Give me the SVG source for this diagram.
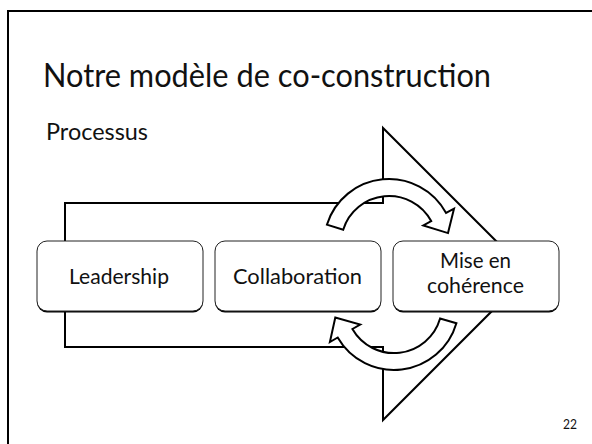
<svg xmlns="http://www.w3.org/2000/svg" width="592" height="444" viewBox="0 0 592 444">
<style>
.txt{font-family:"Lato","Liberation Sans",sans-serif;fill:#111}
.shape{fill:#fff;stroke:#000;stroke-width:2;stroke-linejoin:miter}
.box{fill:#fff;stroke:#222;stroke-width:1}
.shadow{fill:#000}
</style>
<rect x="0" y="0" width="592" height="444" fill="#fff"/>
<rect id="frame" x="8" y="11" width="600" height="460" fill="none" stroke="#000" stroke-width="2"/>
<text class="txt" x="43" y="87" font-size="32" textLength="448" lengthAdjust="spacingAndGlyphs">Notre modèle de co-construction</text>
<text class="txt" x="46" y="140" font-size="24" textLength="102" lengthAdjust="spacingAndGlyphs">Processus</text>
<g id="connectors">
<path id="big-arrow" class="shape" d="M65 203 L383 203 L383 128 L529 274 L383 420 L383 347 L65 347 Z"/>
<path id="arrow-top" class="shape" d="M326.9 224.7 A65 65 0 0 1 446.1 213 L454 208.7 L448 233.1 L423.3 225.4 L431.2 221.1 A48 48 0 0 0 343.2 229.7 Z"/>
<path id="arrow-bottom" class="shape" d="M456.4 323.2 A65 65 0 0 1 337.7 337.5 L329.9 342 L335.3 317.5 L360.2 324.5 L352.4 329 A48 48 0 0 0 440.1 318.5 Z"/>
</g>
<g id="node-leadership">
<rect class="shadow" x="37" y="242.5" width="166" height="70" rx="10"/>
<rect class="box" x="37" y="241" width="166" height="70" rx="10"/>
<text class="txt" x="69" y="284" font-size="22" textLength="100" lengthAdjust="spacingAndGlyphs">Leadership</text>
</g>
<g id="node-collaboration">
<rect class="shadow" x="215" y="242.5" width="166" height="70" rx="10"/>
<rect class="box" x="215" y="241" width="166" height="70" rx="10"/>
<text class="txt" x="233" y="284" font-size="22" textLength="129" lengthAdjust="spacingAndGlyphs">Collaboration</text>
</g>
<g id="node-coherence">
<rect class="shadow" x="393" y="242.5" width="166" height="70" rx="10"/>
<rect class="box" x="393" y="241" width="166" height="70" rx="10"/>
<text class="txt" x="440" y="268" font-size="21" textLength="71" lengthAdjust="spacingAndGlyphs">Mise en</text>
<text class="txt" x="427" y="293" font-size="21" textLength="97" lengthAdjust="spacingAndGlyphs">cohérence</text>
</g>
<text class="txt" x="563" y="429" font-size="13" textLength="14" lengthAdjust="spacingAndGlyphs">22</text>
</svg>
